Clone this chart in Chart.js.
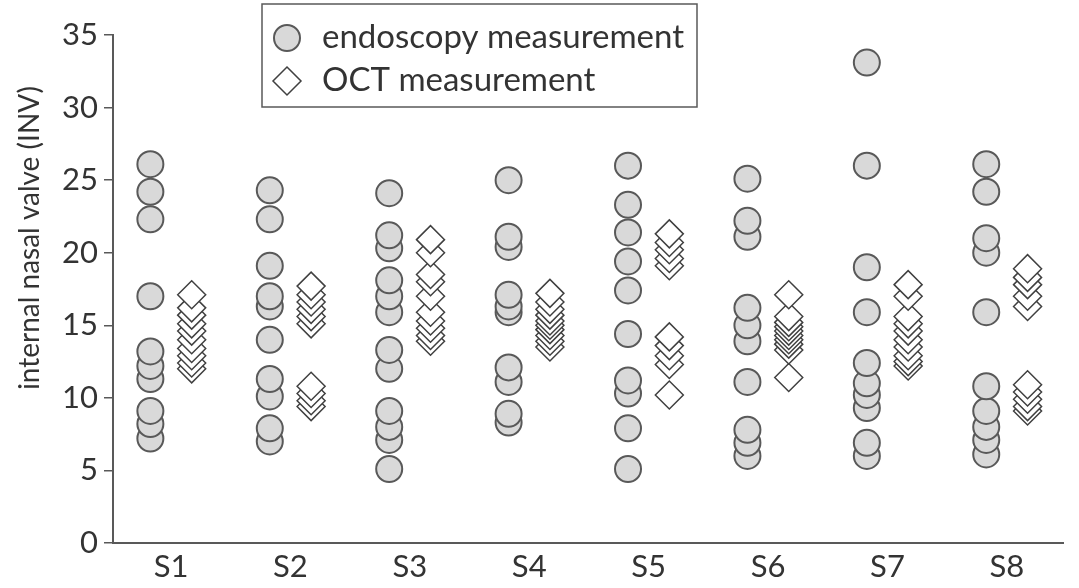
<!DOCTYPE html>
<html>
<head>
<meta charset="utf-8">
<title>Internal nasal valve</title>
<script src="https://cdn.jsdelivr.net/npm/chart.js@4.4.1/dist/chart.umd.min.js"></script>
<style>
  html, body { margin: 0; padding: 0; background: #fff; }
  #wrap { width: 1079px; height: 588px; position: relative; }
</style>
</head>
<body>
<div id="wrap"><canvas id="invChart"></canvas></div>
<script>
// Subjects on the x axis
const subjects = ["S1", "S2", "S3", "S4", "S5", "S6", "S7", "S8"];

// Endoscopy measurements per subject (read top to bottom)
const endoscopy = [
  [26.1, 24.2, 22.3, 17.0, 13.2, 12.2, 11.3, 9.1, 8.2, 7.2],
  [24.3, 22.3, 19.1, 17.0, 16.3, 14.0, 11.3, 10.1, 7.9, 7.0],
  [24.1, 21.2, 20.3, 18.1, 17.0, 15.9, 13.3, 12.0, 9.1, 8.0, 7.1, 5.1],
  [25.0, 21.1, 20.4, 17.1, 16.3, 15.9, 12.1, 11.1, 8.9, 8.3],
  [26.0, 23.3, 21.4, 19.4, 17.4, 14.4, 11.2, 10.3, 7.9, 5.1],
  [25.1, 22.2, 21.1, 16.2, 15.0, 13.9, 11.1, 7.8, 6.9, 6.0],
  [33.1, 26.0, 19.0, 15.9, 12.4, 11.0, 10.2, 9.3, 6.9, 6.0],
  [26.1, 24.2, 21.0, 20.0, 15.9, 10.8, 9.1, 8.0, 7.1, 6.1]
];

// OCT measurements per subject
const oct = [
  [17.1, 16.2, 15.7, 15.1, 14.6, 14.0, 13.4, 12.9, 12.4, 12.0],
  [17.7, 17.1, 16.6, 16.1, 15.6, 15.1, 10.8, 10.3, 9.8, 9.4],
  [20.9, 20.0, 18.5, 18.0, 17.0, 15.9, 15.3, 14.8, 14.3, 13.9],
  [17.2, 16.6, 16.1, 15.7, 15.3, 15.0, 14.7, 14.3, 13.9, 13.5],
  [21.3, 20.7, 20.2, 19.6, 19.1, 14.2, 13.6, 12.9, 12.3, 10.2],
  [17.1, 15.6, 15.2, 14.9, 14.6, 14.3, 14.0, 13.7, 13.3, 11.4],
  [17.8, 17.0, 15.6, 15.1, 14.6, 14.0, 13.5, 12.9, 12.5, 12.2],
  [18.9, 18.3, 17.8, 17.0, 16.3, 10.9, 10.4, 9.9, 9.4, 9.1]
];

// y axis ticks
const yTicks = [0, 5, 10, 15, 20, 25, 30, 35];

const textColor = "#333333";
const axisColor = "#595959";
const fontFamily = "Lato, 'Open Sans', sans-serif";

// turn the per-subject lists into points, lowest values drawn first
function toPoints(groups, shift) {
  const pts = [];
  groups.forEach((vals, i) => {
    vals.forEach((v) => pts.push({ x: i + 1 + shift, y: v }));
  });
  return pts.sort((a, b) => a.y - b.y);
}

// y axis title, drawn off-centre like the original
const yTitlePlugin = {
  id: "yTitle",
  afterDraw(chart) {
    const ctx = chart.ctx;
    ctx.save();
    ctx.translate(30, 238);
    ctx.rotate(-Math.PI / 2);
    ctx.font = "28px " + fontFamily;
    ctx.fillStyle = textColor;
    ctx.textAlign = "center";
    ctx.textBaseline = "middle";
    ctx.fillText("internal nasal valve (INV)", 0, 0);
    ctx.restore();
  },
};

// boxed legend in the upper part of the plot
const boxLegendPlugin = {
  id: "boxLegend",
  afterDraw(chart) {
    const ctx = chart.ctx;
    ctx.save();
    ctx.strokeStyle = axisColor;
    ctx.lineWidth = 1.5;
    ctx.strokeRect(262, 4, 435, 103);

    chart.data.datasets.forEach((ds, i) => {
      const cx = 287;
      const cy = 38 + i * 43;
      ctx.beginPath();
      if (ds.pointStyle === "rectRot") {
        const r = ds.pointRadius;
        ctx.moveTo(cx, cy - r);
        ctx.lineTo(cx + r, cy);
        ctx.lineTo(cx, cy + r);
        ctx.lineTo(cx - r, cy);
        ctx.closePath();
      } else {
        ctx.arc(cx, cy, ds.pointRadius, 0, Math.PI * 2);
      }
      ctx.fillStyle = ds.backgroundColor;
      ctx.strokeStyle = ds.borderColor;
      ctx.lineWidth = ds.borderWidth;
      ctx.fill();
      ctx.stroke();

      ctx.font = "33px " + fontFamily;
      ctx.fillStyle = textColor;
      ctx.textAlign = "left";
      ctx.textBaseline = "middle";
      ctx.fillText(ds.label, 322, cy - 1);
    });
    ctx.restore();
  },
};

const ctx = document.getElementById("invChart").getContext("2d");

const invChart = new Chart(ctx, {
  type: "scatter",
  data: {
    datasets: [
      {
        label: "endoscopy measurement",
        data: toPoints(endoscopy, -0.173),
        pointStyle: "circle",
        pointRadius: 13,
        backgroundColor: "#d9d9d9",
        borderColor: "#595959",
        borderWidth: 2,
        clip: false,
      },
      {
        label: "OCT measurement",
        data: toPoints(oct, 0.173),
        pointStyle: "rectRot",
        pointRadius: 14,
        backgroundColor: "#ffffff",
        borderColor: "#404040",
        borderWidth: 1.5,
        clip: false,
      },
    ],
  },
  options: {
    responsive: true,
    maintainAspectRatio: false,
    animation: false,
    layout: {
      padding: { top: 35, right: 0, bottom: 0, left: 0 },
    },
    scales: {
      x: {
        type: "linear",
        min: 0.514,
        max: 8.474,
        afterFit: (scale) => {
          scale.height = 45;
        },
        afterBuildTicks: (scale) => {
          scale.ticks = subjects.map((s, i) => ({ value: i + 1 }));
        },
        grid: { display: false, drawTicks: false },
        border: { display: true, color: axisColor, width: 2 },
        ticks: {
          padding: 5,
          color: textColor,
          font: { family: fontFamily, size: 31 },
          callback: (value) => subjects[value - 1],
        },
      },
      y: {
        min: 0,
        max: 35,
        afterFit: (scale) => {
          scale.width = 113;
        },
        afterBuildTicks: (scale) => {
          scale.ticks = yTicks.map((v) => ({ value: v }));
        },
        grid: {
          display: true,
          drawOnChartArea: false,
          drawTicks: true,
          tickLength: 9,
          color: axisColor,
          lineWidth: 1.5,
        },
        border: { display: true, color: axisColor, width: 2 },
        ticks: {
          padding: 6,
          color: textColor,
          font: { family: fontFamily, size: 31 },
        },
      },
    },
    plugins: {
      legend: { display: false },
      tooltip: { enabled: false },
    },
  },
  plugins: [yTitlePlugin, boxLegendPlugin],
});
</script>
</body>
</html>
